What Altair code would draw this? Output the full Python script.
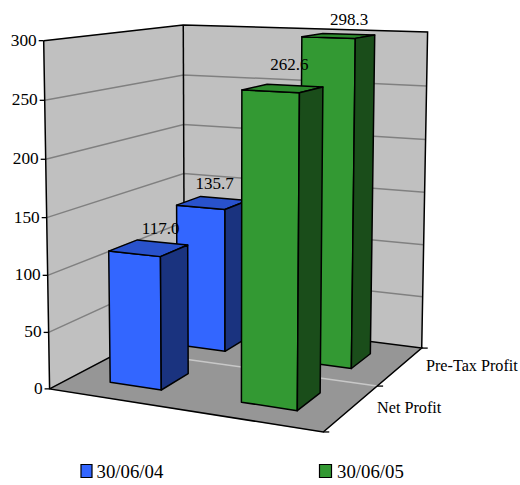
import altair as alt
import numpy as np
import pandas as pd

# Chart content
periods = ["30/06/04", "30/06/05"]
measures = ["Net Profit", "Pre-Tax Profit"]
net_profit = [117.0, 262.6]
pre_tax_profit = [135.7, 298.3]
axis_ticks = [0, 50, 100, 150, 200, 250, 300]
axis_max = 300

# Face colours per period: front, top, side
front_colors = ["#3366ff", "#339933"]
top_colors = ["#2952cc", "#2d8a2d"]
side_colors = ["#1a337f", "#1a4d1a"]

# Perspective camera fitted to the corners of the unit box (u across, v deep, h up)
corners = [
    ((0, 0, 0), (50, 389)), ((1, 0, 0), (323, 432)), ((1, 1, 0), (422, 348)),
    ((0, 1, 0), (184, 318)), ((0, 0, 1), (43.5, 40.5)), ((0, 1, 1), (183.5, 25)),
    ((1, 1, 1), (427.5, 32)),
]
rows, rhs = [], []
for (u, v, h), (sx, sy) in corners:
    rows.append([u, v, h, 1, 0, 0, 0, 0, -sx * u, -sx * v, -sx * h])
    rhs.append(sx)
    rows.append([0, 0, 0, 0, u, v, h, 1, -sy * u, -sy * v, -sy * h])
    rhs.append(sy)
solution = np.linalg.lstsq(np.array(rows, float), np.array(rhs, float), rcond=None)[0]
camera = np.append(solution, 1).reshape(3, 4)


def project(u, v, value=0.0):
    w = camera @ np.array([u, v, value / axis_max, 1.0])
    return [float(w[0] / w[2]), float(w[1] / w[2])]


def polygon(points, fill, stroke):
    ring = points + [points[0]]
    return {
        "type": "Feature",
        "geometry": {"type": "Polygon", "coordinates": [ring]},
        "properties": {"fill": fill, "stroke": stroke},
    }


def line(points, stroke, width):
    return {
        "type": "Feature",
        "geometry": {"type": "LineString", "coordinates": points},
        "properties": {"stroke": stroke, "width": width},
    }


def nudge(point, dx):
    return [point[0] + dx, point[1]]


# Walls and floor
surfaces = [
    polygon([project(0, 0), project(0, 1), project(0, 1, axis_max), project(0, 0, axis_max)], "#c0c0c0", "#c0c0c0"),
    polygon([project(0, 1), project(1, 1), project(1, 1, axis_max), project(0, 1, axis_max)], "#c0c0c0", "#c0c0c0"),
    polygon([project(0, 0), project(1, 0), project(1, 1), project(0, 1)], "#969696", "#969696"),
]

# Gridlines, then the black box outline and tick marks
lines = []
for t in axis_ticks[1:-1]:
    lines.append(line([project(0, 0, t), project(0, 1, t), project(1, 1, t)], "#808080", 1.5))
lines.append(line([project(0, 0.5), project(1, 0.5)], "#c8c8c8", 1.5))
lines.append(line([project(0, 0, axis_max), project(0, 1, axis_max), project(1, 1, axis_max), project(1, 1)], "#000000", 1.5))
lines.append(line([project(0, 0, axis_max), project(0, 0), project(1, 0), project(1, 1), project(0, 1), project(0, 0)], "#000000", 1.5))
lines.append(line([project(0, 1), project(0, 1, axis_max)], "#000000", 1.5))
for t in axis_ticks:
    lines.append(line([nudge(project(0, 0, t), -5), project(0, 0, t)], "#000000", 1.3))
for v in [0, 0.5, 1]:
    lines.append(line([project(1, v), nudge(project(1, v), 6)], "#000000", 1.3))

# Columns, painted from the back row to the front row
half_width = 0.1
label_nudges = {(0, 0): (12, -19), (0, 1): (2, -19), (1, 0): (6.5, -23.5), (1, 1): (10.5, -16)}
series_values = [net_profit, pre_tax_profit]
bars = []
value_labels = []
for s in [1, 0]:
    for c in range(len(periods)):
        val = series_values[s][c]
        u0, u1 = (c + 0.5) / 2 - half_width, (c + 0.5) / 2 + half_width
        v0, v1 = (s + 0.5) / 2 - half_width, (s + 0.5) / 2 + half_width
        bars.append(polygon([project(u0, v0), project(u1, v0), project(u1, v0, val), project(u0, v0, val)], front_colors[c], "#000000"))
        bars.append(polygon([project(u0, v0, val), project(u1, v0, val), project(u1, v1, val), project(u0, v1, val)], top_colors[c], "#000000"))
        bars.append(polygon([project(u1, v0), project(u1, v1), project(u1, v1, val), project(u1, v0, val)], side_colors[c], "#000000"))
        cx, cy = project((u0 + u1) / 2, (v0 + v1) / 2, val)
        dx, dy = label_nudges[(c, s)]
        value_labels.append({"x": cx + dx, "y": cy + dy, "text": f"{val:.1f}"})

x_px = alt.X("x:Q", scale=alt.Scale(domain=[0, 520], range=[0, 520]), axis=None)
y_px = alt.Y("y:Q", scale=alt.Scale(domain=[0, 485], range=[0, 485]), axis=None)
serif = "Liberation Serif"

surface_layer = (
    alt.Chart(alt.Data(values=surfaces))
    .mark_geoshape(strokeWidth=0.5)
    .encode(
        fill=alt.Fill("properties.fill:N", scale=None),
        stroke=alt.Stroke("properties.stroke:N", scale=None),
    )
    .project(type="identity", scale=1, translate=[0, 0])
)
line_layer = (
    alt.Chart(alt.Data(values=lines))
    .mark_geoshape(filled=False)
    .encode(
        stroke=alt.Stroke("properties.stroke:N", scale=None),
        strokeWidth=alt.StrokeWidth("properties.width:Q", scale=None),
    )
    .project(type="identity", scale=1, translate=[0, 0])
)
bar_layer = (
    alt.Chart(alt.Data(values=bars))
    .mark_geoshape(strokeWidth=1.5, strokeJoin="round")
    .encode(
        fill=alt.Fill("properties.fill:N", scale=None),
        stroke=alt.Stroke("properties.stroke:N", scale=None),
    )
    .project(type="identity", scale=1, translate=[0, 0])
)


def text_layer(records, size, align):
    return (
        alt.Chart(pd.DataFrame(records))
        .mark_text(font=serif, fontSize=size, align=align, baseline="middle", color="#000000")
        .encode(x=x_px, y=y_px, text="text:N")
    )


tick_labels = []
for t in axis_ticks:
    px, py = project(0, 0, t)
    tick_labels.append({"x": px - 7, "y": py, "text": str(t)})

measure_labels = []
for s, name in enumerate(measures):
    px, py = project(1, (s + 0.5) / 2)
    measure_labels.append({"x": px + 25.5, "y": py, "text": name})

legend_rows = pd.DataFrame({
    "x": [81, 319.5], "x2": [92, 331.5], "y": [464.5, 464.5], "y2": [477.5, 477.5],
    "fill": front_colors,
})
legend_boxes = (
    alt.Chart(legend_rows)
    .mark_rect(stroke="#000000", strokeWidth=1.2)
    .encode(x=x_px, x2="x2:Q", y=y_px, y2="y2:Q", fill=alt.Fill("fill:N", scale=None))
)
legend_text = text_layer(
    [{"x": 96.5, "y": 472, "text": periods[0]}, {"x": 337, "y": 472, "text": periods[1]}],
    18.8, "left",
)

chart = (
    alt.layer(
        surface_layer,
        line_layer,
        bar_layer,
        text_layer(tick_labels, 17.3, "right"),
        text_layer(value_labels, 17, "center"),
        text_layer(measure_labels, 16.2, "left"),
        legend_boxes,
        legend_text,
    )
    .properties(width=520, height=485, padding=0, autosize="none", background="#ffffff")
    .configure_view(stroke=None)
)

chart.save("out.html", embed_options={"renderer": "svg", "actions": False})
